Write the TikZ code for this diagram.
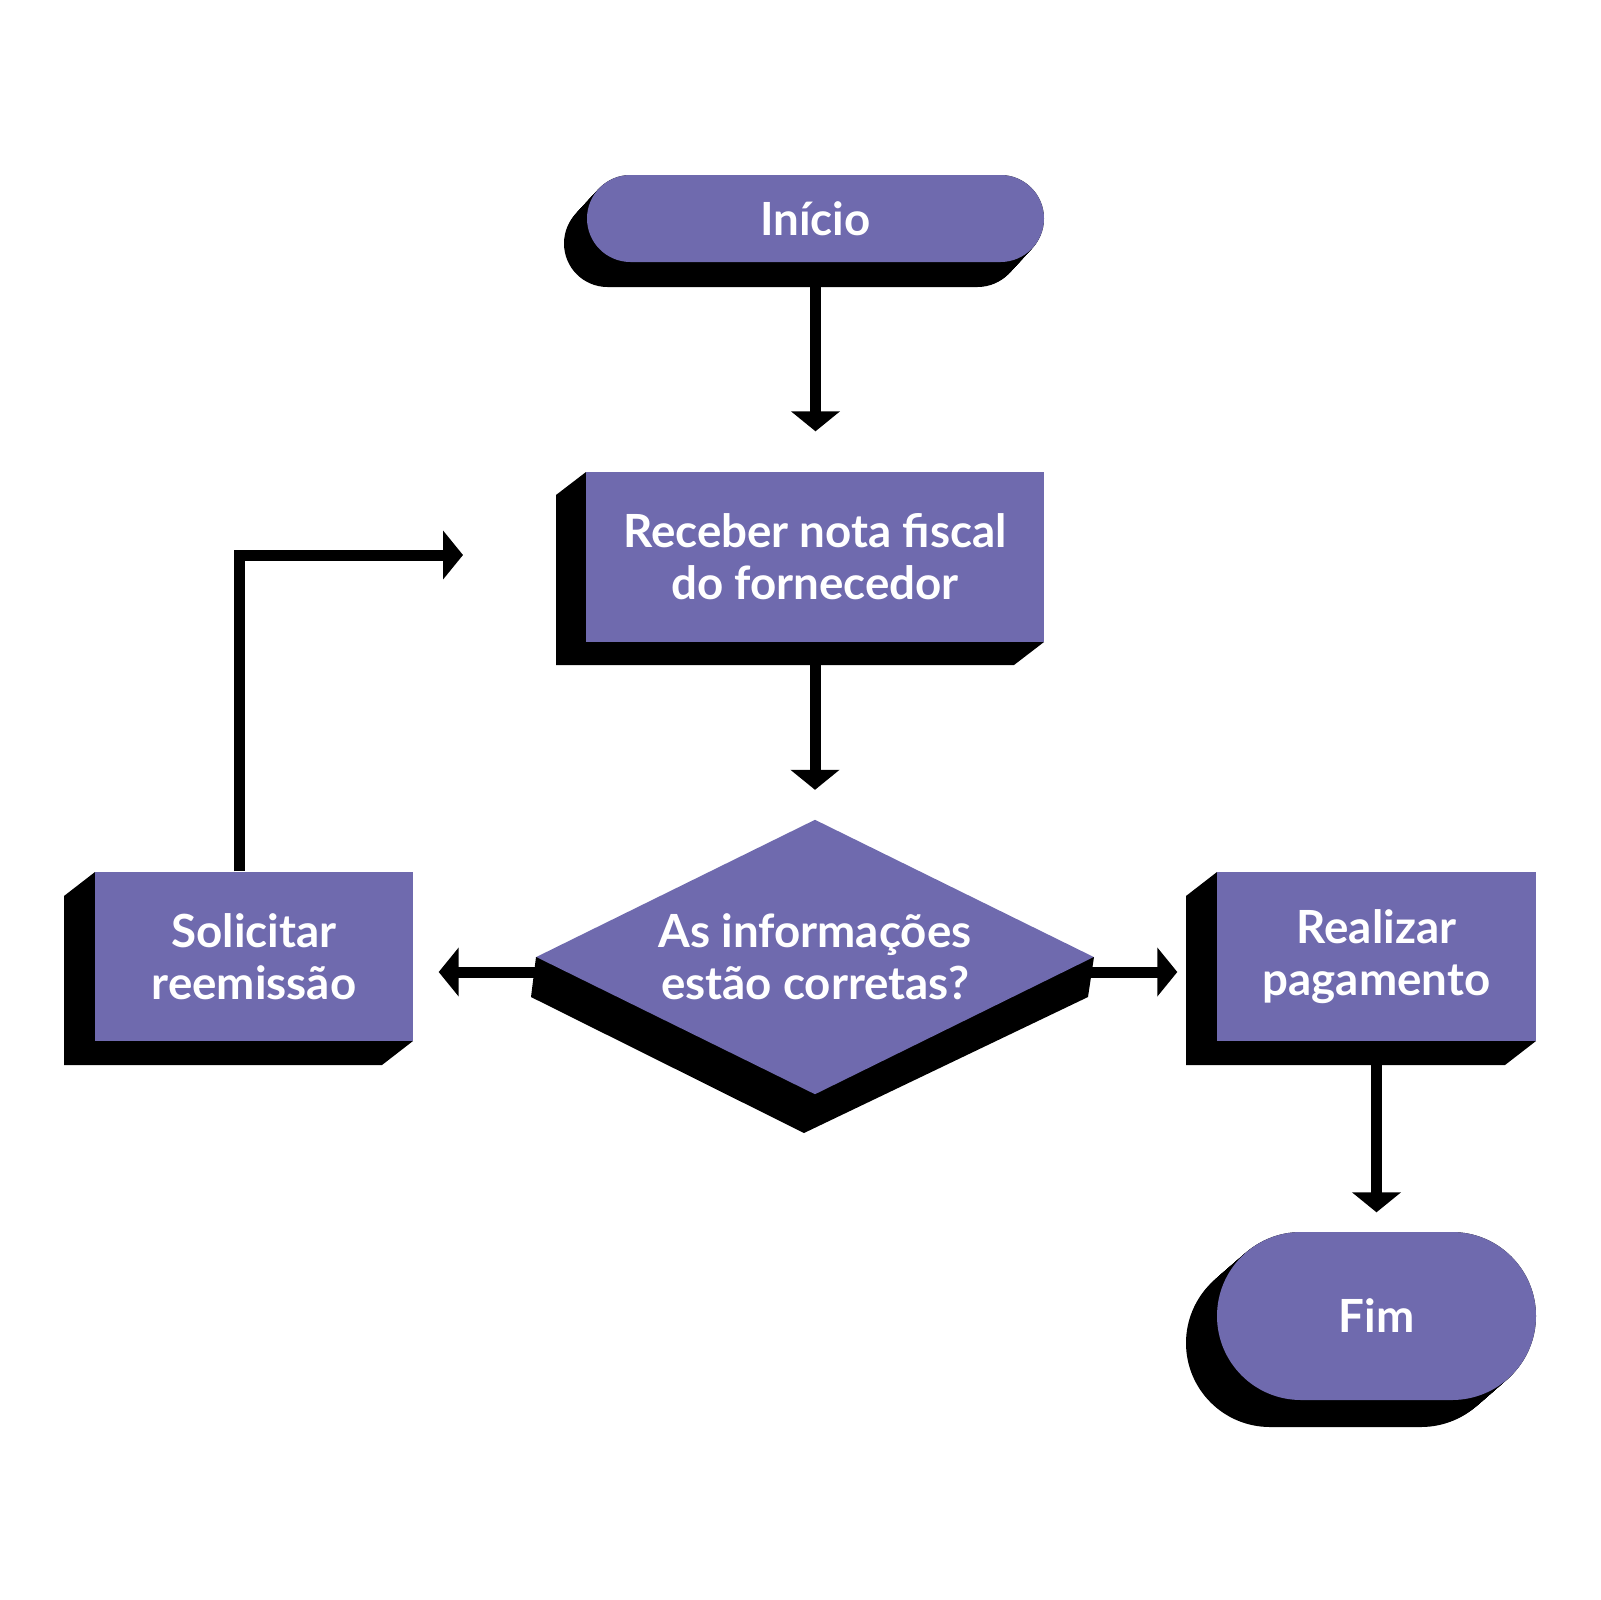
\documentclass[tikz,border=0pt]{standalone}
\usepackage{fontspec}
\setmainfont{Lato}
\usetikzlibrary{arrows.meta,calc,shapes.geometric,backgrounds}
\definecolor{violeta}{RGB}{111,106,174}
\begin{document}
\begin{tikzpicture}[x=0.1mm,y=-0.1mm,
  txt/.style={text=white, inner sep=0pt, align=center,
    font=\bfseries\fontsize{13}{14.8}\selectfont},
  boxnode/.style={txt, rectangle, fill=violeta},
  pillnode/.style={boxnode, rounded corners=#1},
  decnode/.style={txt, diamond, fill=violeta, aspect=2.03},
  conn/.style={line width=1.1mm, line join=miter, black,
    -{Triangle[length=2mm,width=4.8mm]}},
]
\useasboundingbox (0,0) rectangle (1600,1600);

% process and terminal shapes
\node[pillnode=4.35mm, minimum width=45.7mm, minimum height=8.7mm] (inicio) at (815.5,218.5) {Início};
\node[boxnode, minimum width=45.8mm, minimum height=17mm] (receber) at (815,557) {Receber nota fiscal\\do fornecedor};
\node[decnode, minimum width=55.8mm, minimum height=27.5mm] (decisao) at (815,957) {As informações\\estão corretas?};
\node[boxnode, minimum width=31.8mm, minimum height=16.9mm] (solicitar) at (254,956.5) {Solicitar\\reemissão};
\node[boxnode, minimum width=31.9mm, minimum height=16.9mm] (realizar) at (1376.5,956.5) {Realizar\\pagamento};
\node[pillnode=8.4mm, minimum width=31.9mm, minimum height=16.8mm] (fim) at (1376.5,1316) {Fim};

\begin{scope}[on background layer]
  \fill[white] (0,0) rectangle (1600,1600);
  % extruded shadows
  \foreach \i in {0,...,30} {
    \fill[black, rounded corners=4.35mm, shift={({-23*\i/30},{25*\i/30})}] (587,175) rectangle (1044,262);
    \fill[black, rounded corners=8.4mm, shift={({-31*\i/30},{27*\i/30})}] (1217,1232) rectangle (1536,1400);
  }
  \fill[black] (586,472) -- (556,495) -- (556,665) -- (1014,665) -- (1044,642) -- cycle;
  \fill[black] (95,872) -- (64,896) -- (64,1065) -- (382,1065) -- (413,1041) -- cycle;
  \fill[black] (1217,872) -- (1186,896) -- (1186,1065) -- (1505,1065) -- (1536,1041) -- cycle;
  \fill[black] (536,957) -- (531,997) -- (804,1133) -- (1088,997) -- (1094,957) -- cycle;

  % connectors
  \coordinate (t1) at ($(receber.north)+(0,-40)$);
  \draw[conn] (inicio.south) -- (inicio.south |- t1);
  \coordinate (t2) at ($(decisao.north)+(0,-29)$);
  \draw[conn] (receber.south) -- (receber.south |- t2);
  \coordinate (dl) at ($(decisao.west)+(6,15)$);
  \coordinate (sl) at ($(solicitar.east)+(25,0)$);
  \draw[conn] (dl) -- (sl |- dl);
  \coordinate (dr) at ($(decisao.east)+(-6,15)$);
  \coordinate (rl) at ($(realizar.west)+(-39,0)$);
  \draw[conn] (dr) -- (rl |- dr);
  \coordinate (t3) at ($(fim.north)+(0,-19)$);
  \draw[conn] (realizar.south) -- (realizar.south |- t3);
  \coordinate (sn) at ($(solicitar.north)+(-15,0)$);
  \coordinate (retorno) at (463,555);
  \draw[conn] (sn) |- (retorno);
\end{scope}
\end{tikzpicture}
\end{document}
